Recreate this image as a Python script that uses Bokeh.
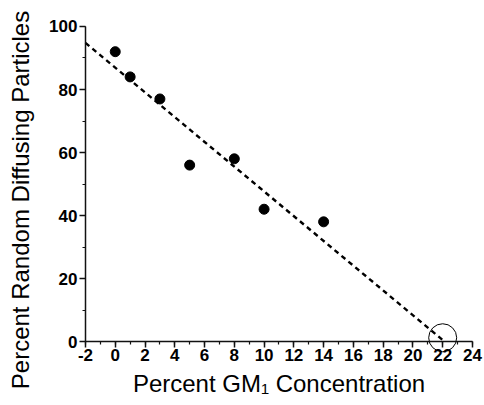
from bokeh.plotting import figure
from bokeh.models import Range1d, FixedTicker, LinearAxis
from bokeh.embed import file_html
from bokeh.resources import INLINE

# ---- data ----
gm1_percent = [0, 1, 3, 5, 8, 10, 14]
random_diffusing = [92, 84, 77, 56, 58, 42, 38]
fit_x = [-2, 22]
fit_y = [94.8, 0.5]
intercept_x = [22]
intercept_y = [1.2]
x_ticks = list(range(-2, 25, 2))
x_minor = list(range(-2, 25, 1))
y_ticks = list(range(0, 101, 20))
y_minor = list(range(0, 101, 10))

# the frame covers the whole canvas; axes are pinned in data space
p = figure(width=484, height=405, output_backend="svg", toolbar_location=None,
           x_range=Range1d(-7.71, 24.81), y_range=Range1d(-20.3, 108.25),
           min_border_left=0, min_border_right=0,
           min_border_top=0, min_border_bottom=0)
p.outline_line_color = None
p.xgrid.visible = False
p.ygrid.visible = False
p.background_fill_color = "white"
p.border_fill_color = "white"

p.xaxis.ticker = FixedTicker(ticks=x_ticks, minor_ticks=x_minor)
p.yaxis.ticker = FixedTicker(ticks=y_ticks, minor_ticks=y_minor)
p.xaxis.major_label_overrides = {t: str(t) for t in x_ticks}
p.xaxis.axis_label = "Percent GM\u2081 Concentration"
p.xaxis.fixed_location = 0
p.yaxis.fixed_location = -2
p.xaxis.bounds = (-2, 24)
p.yaxis.bounds = (0, 100)

for ax in (p.xaxis, p.yaxis):
    ax.axis_line_width = 1.5
    ax.axis_line_color = "#111111"
    ax.major_tick_line_color = "#111111"
    ax.minor_tick_line_color = "#111111"
    ax.major_tick_line_width = 1.5
    ax.minor_tick_line_width = 1.2
    ax.major_tick_in = 0
    ax.minor_tick_in = 0
    ax.major_tick_out = 6
    ax.minor_tick_out = 3
    ax.major_label_text_font = "Liberation Sans"
    ax.major_label_text_font_style = "bold"
    ax.major_label_text_font_size = "17px"
    ax.major_label_text_color = "black"
    ax.axis_label_text_font = "Liberation Sans"
    ax.axis_label_text_font_style = "normal"
    ax.axis_label_text_font_size = "24px"
    ax.axis_label_text_color = "black"

p.xaxis.major_label_standoff = 1
p.yaxis.major_label_standoff = 2
p.xaxis.axis_label_standoff = 6

# y title carried by a tick-less axis so it sits where the reference has it
ytitle = LinearAxis(ticker=FixedTicker(ticks=[], minor_ticks=[]),
                    fixed_location=-2, bounds=(-10, 100),
                    axis_line_color=None, major_tick_line_color=None,
                    minor_tick_line_color=None, major_tick_out=0, minor_tick_out=0,
                    axis_label="Percent Random Diffusing Particles",
                    axis_label_text_font="Liberation Sans",
                    axis_label_text_font_style="normal",
                    axis_label_text_font_size="24px",
                    axis_label_text_color="black",
                    axis_label_standoff=52)
p.add_layout(ytitle, "left")

p.line(fit_x, fit_y, line_color="black", line_width=2.4, line_dash="5 4")
p.scatter(gm1_percent, random_diffusing, size=10, marker="circle",
          fill_color="black", line_color="black")
p.scatter(intercept_x, intercept_y, size=28, marker="circle",
          fill_color=None, line_color="black", line_width=1)

open("out.html", "w").write(file_html(p, INLINE))
